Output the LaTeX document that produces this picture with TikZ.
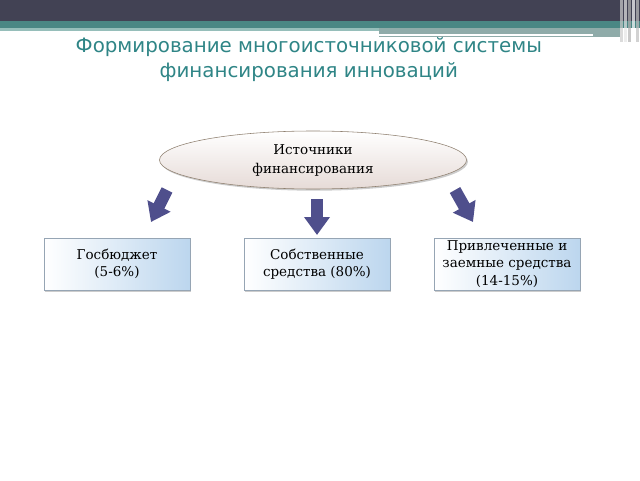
\documentclass[tikz,border=0pt]{standalone}
\usepackage{fontspec}
\setmainfont{DejaVu Serif}
\newfontfamily\titlefont{DejaVu Sans}
\usetikzlibrary{shapes.geometric, arrows.meta, positioning, shadows}
\definecolor{topdark}{RGB}{66,66,84}
\definecolor{topteal}{RGB}{74,135,132}
\definecolor{lightteal}{RGB}{150,190,186}
\definecolor{titleteal}{RGB}{47,133,134}
\definecolor{boxblue}{RGB}{188,214,238}
\definecolor{boxedge}{RGB}{150,165,180}
\definecolor{ovalpink}{RGB}{230,219,215}
\definecolor{arrowblue}{RGB}{79,79,140}

\begin{document}
\begin{tikzpicture}[font=\fontsize{9.6}{12.4}\selectfont,
  srcoval/.style={ellipse, draw=gray!75!brown, top color=white, bottom color=ovalpink,
    minimum width=7.675cm, minimum height=1.45cm, align=center,
    drop shadow={opacity=0.4, shadow xshift=1pt, shadow yshift=-1.2pt}},
  partbox/.style={rectangle, draw=boxedge, shading=axis, shading angle=60,
    left color=white, right color=boxblue,
    minimum width=3.65cm, minimum height=1.3cm, align=center, inner sep=1pt,
    drop shadow={opacity=0.4, shadow xshift=1pt, shadow yshift=-1.2pt}},
  bigarrow/.style={arrowblue, line width=0.3cm, -{Triangle[width=0.62cm, length=0.45cm]}}]
  \useasboundingbox (0,0) rectangle (16,12);
  % top banner
  \fill[topdark] (0,12) rectangle (16,11.475);
  \fill[topteal] (0,11.475) rectangle (16,11.3);
  \fill[lightteal] (0,11.3) rectangle (9.475,11.225);
  \fill[lightteal!70!gray] (9.475,11.3) rectangle (15.5,11.075);
  \draw[white, line width=1.2pt] (9.475,11.125) -- (14.825,11.125);
  \foreach \x/\c in {15.5/gray!40, 15.6/white!80!gray, 15.7/gray!60, 15.8/white, 15.9/gray!50}{
    \fill[\c, opacity=0.7] (\x,12) rectangle (\x+0.07,10.95);
  }
  % title
  \node[font=\titlefont\fontsize{14.1}{17.7}\selectfont, text=titleteal, align=center]
    (title) at (7.72,10.51) {Формирование многоисточниковой системы\\финансирования инноваций};
  % source and parts
  \node[srcoval, font=\fontsize{9.6}{13.5}\selectfont] (src) at (7.825,8.0) {Источники\\финансирования};
  \node[partbox] (gos) at (2.925,5.4) {Госбюджет\\(5-6\%)};
  \node[partbox] (own) at (7.925,5.4) {Собственные\\средства (80\%)};
  \node[partbox] (borrow) at (12.675,5.4) {Привлеченные и\\заемные средства\\(14-15\%)};
  % arrows
  \coordinate (la) at (4.175,7.25);
  \coordinate (lb) at (3.775,6.45);
  \coordinate (ma) at (7.925,7.025);
  \coordinate (mb) at (7.925,6.125);
  \coordinate (ra) at (11.375,7.25);
  \coordinate (rb) at (11.825,6.45);
  \draw[bigarrow] (la) -- (lb);
  \draw[bigarrow] (ma) -- (mb);
  \draw[bigarrow] (ra) -- (rb);
\end{tikzpicture}
\end{document}
